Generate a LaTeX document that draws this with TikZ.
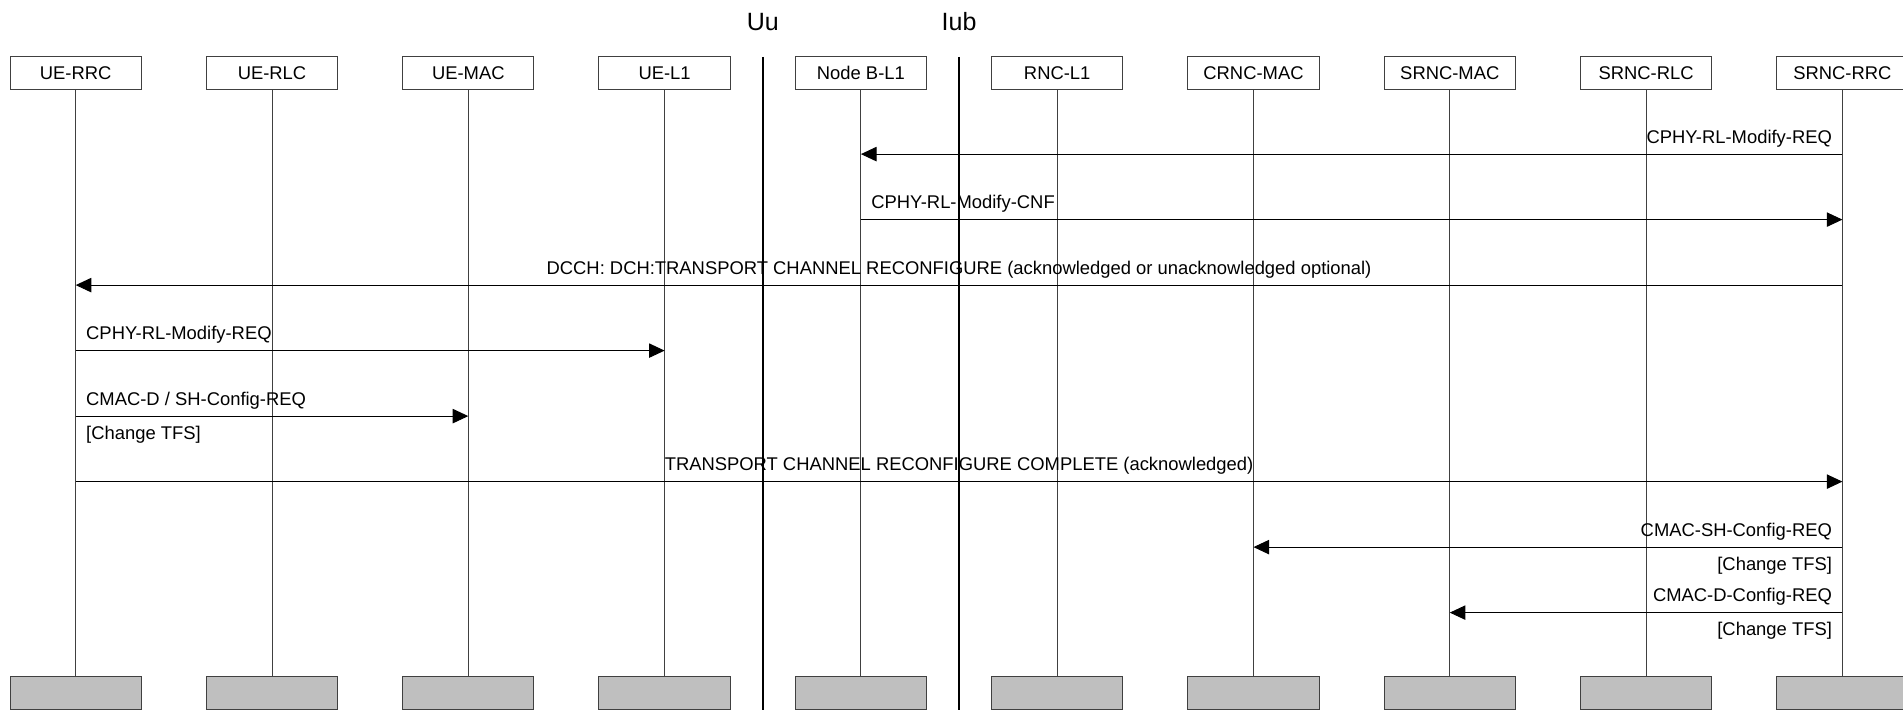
\documentclass[tikz,border=0pt]{standalone}
\usepackage{fontspec}
\setmainfont{Liberation Sans}
\usetikzlibrary{positioning, arrows.meta}

\begin{document}
\begin{tikzpicture}[x=0.5pt, y=-0.5pt,
	entity/.style={draw=black!75, line width=0.5pt, minimum width=65.65pt, minimum height=16.35pt, inner sep=0pt, outer sep=0pt, font=\fontsize{9.2}{11}\selectfont},
	foot/.style={entity, fill=black!25, below=293.65pt of #1},
	life/.style={draw=black!75, line width=0.5pt},
	border/.style={line width=1pt},
	iface/.style={font=\fontsize{12.5}{15}\selectfont, inner sep=0pt, yshift=17.5pt},
	msg/.style={line width=0.5pt, -{Triangle[length=7.8pt, width=7.2pt]}},
	lbl/.style={font=\fontsize{9.2}{11}\selectfont, text depth=0pt, inner xsep=5pt, inner ysep=5.25pt},
	note/.style={font=\fontsize{9.2}{11}\selectfont, inner sep=0pt, yshift=-11.5pt}
	]
	\useasboundingbox (0,0) rectangle (1903,709);

	% entities
	\node[entity] (ue-rrc) at (75.7,73.3) {UE-RRC};
	\node[entity, right=32.5pt of ue-rrc] (ue-rlc) {UE-RLC};
	\node[entity, right=32.5pt of ue-rlc] (ue-mac) {UE-MAC};
	\node[entity, right=32.5pt of ue-mac] (ue-l1) {UE-L1};
	\node[entity, right=32.5pt of ue-l1] (nodeb-l1) {Node B-L1};
	\node[entity, right=32.5pt of nodeb-l1] (rnc-l1) {RNC-L1};
	\node[entity, right=32.5pt of rnc-l1] (crnc-mac) {CRNC-MAC};
	\node[entity, right=32.5pt of crnc-mac] (srnc-mac) {SRNC-MAC};
	\node[entity, right=32.5pt of srnc-mac] (srnc-rlc) {SRNC-RLC};
	\node[entity, right=32.5pt of srnc-rlc] (srnc-rrc) {SRNC-RRC};

	\node[foot=ue-rrc] (ue-rrc-foot) {};
	\node[foot=ue-rlc] (ue-rlc-foot) {};
	\node[foot=ue-mac] (ue-mac-foot) {};
	\node[foot=ue-l1] (ue-l1-foot) {};
	\node[foot=nodeb-l1] (nodeb-l1-foot) {};
	\node[foot=rnc-l1] (rnc-l1-foot) {};
	\node[foot=crnc-mac] (crnc-mac-foot) {};
	\node[foot=srnc-mac] (srnc-mac-foot) {};
	\node[foot=srnc-rlc] (srnc-rlc-foot) {};
	\node[foot=srnc-rrc] (srnc-rrc-foot) {};

	\draw[life]
		(ue-rrc) -- (ue-rrc-foot)
		(ue-rlc) -- (ue-rlc-foot)
		(ue-mac) -- (ue-mac-foot)
		(ue-l1) -- (ue-l1-foot)
		(nodeb-l1) -- (nodeb-l1-foot)
		(rnc-l1) -- (rnc-l1-foot)
		(crnc-mac) -- (crnc-mac-foot)
		(srnc-mac) -- (srnc-mac-foot)
		(srnc-rlc) -- (srnc-rlc-foot)
		(srnc-rrc) -- (srnc-rrc-foot)
		;

	% interfaces
	\path (ue-l1.north) -- coordinate (uu-top) (nodeb-l1.north);
	\path (nodeb-l1.north) -- coordinate (iub-top) (rnc-l1.north);
	\node[iface] (uu) at (uu-top) {Uu};
	\node[iface] (iub) at (iub-top) {Iub};
	\draw[border] (uu-top) -- (uu-top |- ue-l1-foot.south);
	\draw[border] (iub-top) -- (iub-top |- rnc-l1-foot.south);

	% message rows
	\coordinate (m1) at (0,154.1);
	\coordinate (m2) at (0,219.6);
	\coordinate (m3) at (0,285.1);
	\coordinate (m4) at (0,350.6);
	\coordinate (m5) at (0,416.1);
	\coordinate (m6) at (0,481.6);
	\coordinate (m7) at (0,547.1);
	\coordinate (m8) at (0,612.6);

	\draw[msg] (srnc-rrc |- m1) node[lbl, above left] {CPHY-RL-Modify-REQ} -- (nodeb-l1 |- m1);
	\draw[msg] (nodeb-l1 |- m2) node[lbl, above right] {CPHY-RL-Modify-CNF} -- (srnc-rrc |- m2);
	\draw[msg] (srnc-rrc |- m3) -- node[lbl, above] {DCCH: DCH:TRANSPORT CHANNEL RECONFIGURE (acknowledged or unacknowledged optional)} (ue-rrc |- m3);
	\draw[msg] (ue-rrc |- m4) node[lbl, above right] {CPHY-RL-Modify-REQ} -- (ue-l1 |- m4);
	\draw[msg] (ue-rrc |- m5) node[lbl, above right] {CMAC-D / SH-Config-REQ}
		node[note, anchor=base west, xshift=5pt] {[Change TFS]} -- (ue-mac |- m5);
	\draw[msg] (ue-rrc |- m6) -- node[lbl, above] {TRANSPORT CHANNEL RECONFIGURE COMPLETE (acknowledged)} (srnc-rrc |- m6);
	\draw[msg] (srnc-rrc |- m7) node[lbl, above left] {CMAC-SH-Config-REQ}
		node[note, anchor=base east, xshift=-5pt] {[Change TFS]} -- (crnc-mac |- m7);
	\draw[msg] (srnc-rrc |- m8) node[lbl, above left] {CMAC-D-Config-REQ}
		node[note, anchor=base east, xshift=-5pt] {[Change TFS]} -- (srnc-mac |- m8);
\end{tikzpicture}
\end{document}
